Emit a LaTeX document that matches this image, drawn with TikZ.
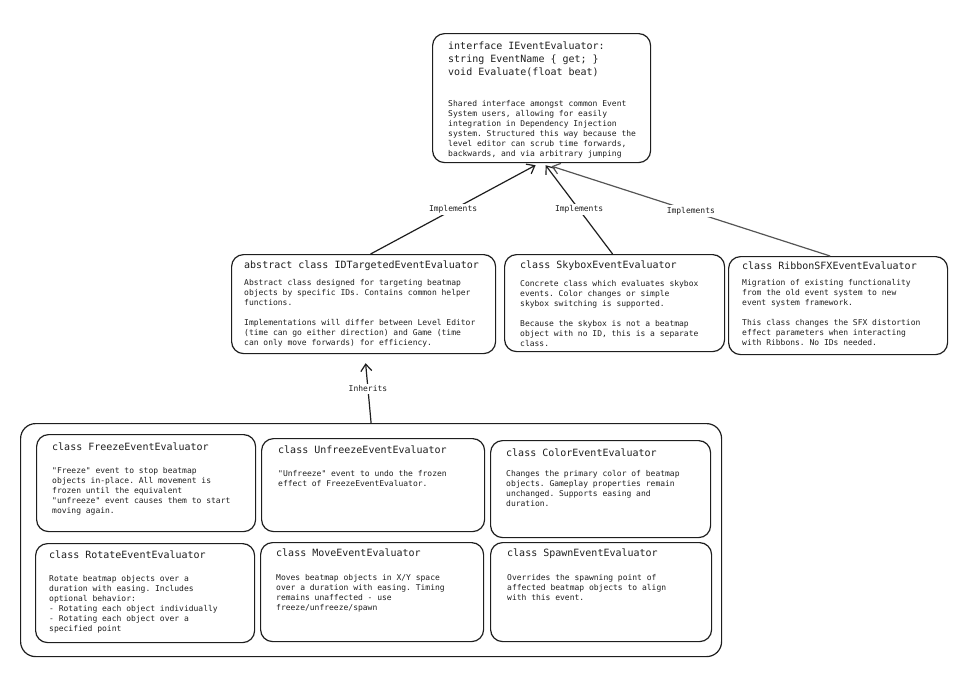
\documentclass[tikz,border=0pt]{standalone}
\usepackage{fontspec}
\setmonofont{DejaVu Sans Mono}
\usepackage{xcolor}
\usepackage{tikz}
\usetikzlibrary{arrows.meta}
\definecolor{inkblack}{HTML}{1E1E1E}
\definecolor{inkgray}{HTML}{555555}

\begin{document}
\begin{tikzpicture}[
    x=1pt, y=-1pt,
    box/.style={draw=inkblack, line width=1.2pt, rounded corners=12pt, anchor=north west, inner sep=0pt},
    ttl/.style={anchor=north west, inner sep=0pt, align=left, text=inkblack, font=\ttfamily\fontsize{10}{13}\selectfont},
    txt/.style={anchor=north west, inner sep=0pt, align=left, text=inkblack, font=\ttfamily\fontsize{8}{10}\selectfont},
    impl/.style={-{Straight Barb[length=7pt,width=11pt]}, line width=1.2pt, inkblack},
    lbl/.style={font=\ttfamily\fontsize{8}{10}\selectfont, fill=white, inner sep=2pt, text=inkblack},
]
\useasboundingbox (0,0) rectangle (975,678);

% Interface
\node[box, minimum width=218pt, minimum height=129pt] (iface) at (432,33) {};
\node[ttl] (ifacet) at (448,42) {interface IEventEvaluator:\\string EventName \{ get; \}\\void Evaluate(float beat)};
\node[txt] (ifaceb) at (448,100) {Shared interface amongst common Event\\System users, allowing for easily\\integration in Dependency Injection\\system. Structured this way because the\\level editor can scrub time forwards,\\backwards, and via arbitrary jumping};

% Implementations
\node[box, minimum width=264pt, minimum height=99pt] (idt) at (231,254) {};
\node[ttl] (idtt) at (244,261) {abstract class IDTargetedEventEvaluator};
\node[txt] (idtb) at (244,279) {Abstract class designed for targeting beatmap\\objects by specific IDs. Contains common helper\\functions.\\[10pt]Implementations will differ between Level Editor\\(time can go either direction) and Game (time\\can only move forwards) for efficiency.};

\node[box, minimum width=220pt, minimum height=97pt] (sky) at (504,254) {};
\node[ttl] (skyt) at (520,261) {class SkyboxEventEvaluator};
\node[txt] (skyb) at (520,280) {Concrete class which evaluates skybox\\events. Color changes or simple\\skybox switching is supported.\\[10pt]Because the skybox is not a beatmap\\object with no ID, this is a separate\\class.};

\node[box, minimum width=219pt, minimum height=98pt] (rib) at (728,256) {};
\node[ttl] (ribt) at (742,262) {class RibbonSFXEventEvaluator};
\node[txt] (ribb) at (742,279) {Migration of existing functionality\\from the old event system to new\\event system framework.\\[10pt]This class changes the SFX distortion\\effect parameters when interacting\\with Ribbons. No IDs needed.};

% Group of ID targeted evaluators
\node[box, rounded corners=15pt, minimum width=701pt, minimum height=233pt] (grp) at (20,423) {};

\node[box, minimum width=219pt, minimum height=97pt] (frz) at (36,434) {};
\node[ttl] (frzt) at (52,443) {class FreezeEventEvaluator};
\node[txt] (frzb) at (52,467) {"Freeze" event to stop beatmap\\objects in-place. All movement is\\frozen until the equivalent\\"unfreeze" event causes them to start\\moving again.};

\node[box, minimum width=223pt, minimum height=93pt] (unf) at (261,438) {};
\node[ttl] (unft) at (278,446) {class UnfreezeEventEvaluator};
\node[txt] (unfb) at (278,470) {"Unfreeze" event to undo the frozen\\effect of FreezeEventEvaluator.};

\node[box, minimum width=220pt, minimum height=97pt] (col) at (490,440) {};
\node[ttl] (colt) at (506,449) {class ColorEventEvaluator};
\node[txt] (colb) at (506,470) {Changes the primary color of beatmap\\objects. Gameplay properties remain\\unchanged. Supports easing and\\duration.};

\node[box, minimum width=219pt, minimum height=99pt] (rot) at (35,543) {};
\node[ttl] (rott) at (49,551) {class RotateEventEvaluator};
\node[txt] (rotb) at (49,575) {Rotate beatmap objects over a\\duration with easing. Includes\\optional behavior:\\- Rotating each object individually\\- Rotating each object over a\\specified point};

\node[box, minimum width=223pt, minimum height=99pt] (mov) at (260,542) {};
\node[ttl] (movt) at (276,549) {class MoveEventEvaluator};
\node[txt] (movb) at (276,574) {Moves beatmap objects in X/Y space\\over a duration with easing. Timing\\remains unaffected - use\\freeze/unfreeze/spawn};

\node[box, minimum width=221pt, minimum height=99pt] (spw) at (490,542) {};
\node[ttl] (spwt) at (507,549) {class SpawnEventEvaluator};
\node[txt] (spwb) at (507,574) {Overrides the spawning point of\\affected beatmap objects to align\\with this event.};

% Arrows
\draw[impl] ([xshift=7pt]idt.north) -- node[lbl] {Implements} ([xshift=-6pt,yshift=-2pt]iface.south);
\draw[impl] ([xshift=-2pt]sky.north) -- node[lbl] {Implements} ([xshift=4pt,yshift=-2pt]iface.south);
\draw[impl, inkgray] ([xshift=-8pt]rib.north) -- node[lbl] {Implements} ([xshift=10pt,yshift=-3pt]iface.south);
\draw[impl] (grp.north) -- node[lbl, pos=0.57] {Inherits} ([xshift=2pt,yshift=-9pt]idt.south);
\end{tikzpicture}
\end{document}
